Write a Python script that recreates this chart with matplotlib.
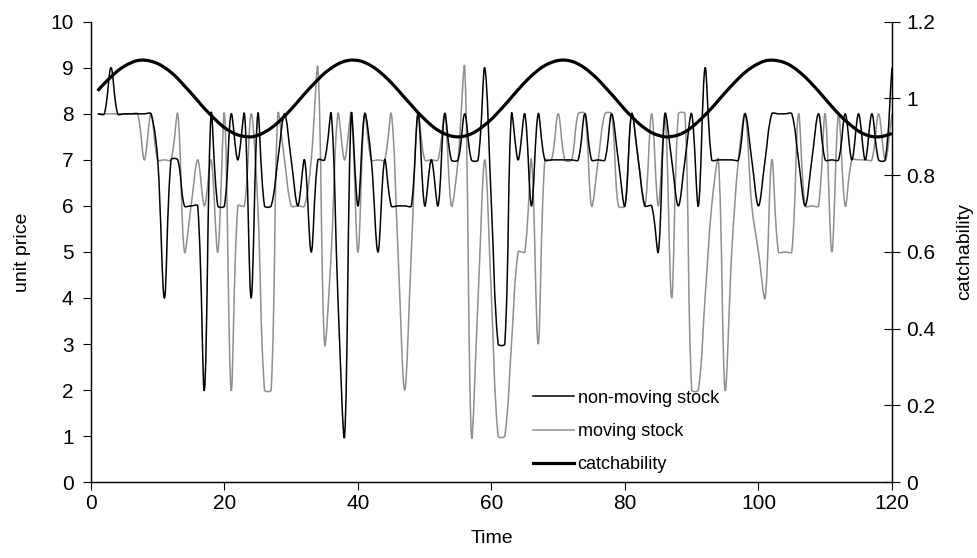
import numpy as np
import matplotlib
matplotlib.use('Agg')
import matplotlib.pyplot as plt
from matplotlib.path import Path
from matplotlib.patches import PathPatch
from matplotlib.lines import Line2D
from matplotlib.ticker import FuncFormatter

plt.rcParams['font.family'] = ['Liberation Sans', 'DejaVu Sans']

time = np.arange(1, 121)

non_moving = [8, 8, 9, 8, 8, 8, 8, 8, 8, 7,
              4, 7, 7, 6, 6, 6, 2, 8, 6, 6,
              8, 7, 8, 4, 8, 6, 6, 7, 8, 7,
              6, 7, 5, 7, 7, 8, 4, 1, 8, 6,
              8, 7, 5, 7, 6, 6, 6, 6, 8, 6,
              7, 6, 8, 7, 7, 8, 7, 7, 9, 6,
              3, 3, 8, 7, 8, 6, 8, 7, 7, 7,
              7, 7, 7, 8, 7, 7, 7, 8, 7, 6,
              8, 7, 6, 6, 5, 8, 7, 6, 7, 8,
              6, 9, 7, 7, 7, 7, 7, 8, 7, 6,
              7, 8, 8, 8, 8, 7, 6, 7, 8, 7,
              7, 7, 8, 7, 8, 7, 8, 7, 7, 9]

moving = [8, 8, 8, 8, 8, 8, 8, 7, 8, 7,
          7, 7, 8, 5, 6, 7, 6, 7, 5, 8,
          2, 6, 6, 8, 6, 2, 2, 8, 7, 6,
          6, 6, 7, 9, 3, 5, 8, 7, 8, 5,
          8, 7, 7, 7, 8, 5, 2, 5, 8, 7,
          7, 7, 8, 6, 7, 9, 1, 4, 7, 4,
          1, 1, 3, 5, 5, 7, 3, 7, 7, 8,
          7, 7, 8, 8, 6, 7, 8, 8, 6, 6,
          8, 7, 6, 8, 6, 8, 4, 8, 8, 2,
          2, 4, 6, 7, 2, 5, 7, 8, 6, 5,
          4, 7, 5, 5, 5, 8, 6, 6, 6, 8,
          5, 8, 6, 7, 7, 7, 7, 8, 7, 8]

catchability = [1.020, 1.039, 1.056, 1.072, 1.084, 1.093, 1.099, 1.100, 1.097, 1.091,
                1.081, 1.068, 1.052, 1.033, 1.014, 0.994, 0.974, 0.956, 0.939, 0.924,
                0.913, 0.905, 0.901, 0.900, 0.904, 0.912, 0.923, 0.937, 0.954, 0.972,
                0.992, 1.012, 1.031, 1.049, 1.066, 1.079, 1.090, 1.097, 1.100, 1.099,
                1.094, 1.085, 1.073, 1.058, 1.041, 1.022, 1.002, 0.983, 0.963, 0.946,
                0.930, 0.917, 0.908, 0.902, 0.900, 0.902, 0.908, 0.918, 0.931, 0.946,
                0.964, 0.983, 1.003, 1.023, 1.042, 1.059, 1.074, 1.086, 1.094, 1.099,
                1.100, 1.097, 1.090, 1.079, 1.065, 1.049, 1.030, 1.011, 0.991, 0.971,
                0.953, 0.936, 0.922, 0.911, 0.904, 0.900, 0.901, 0.905, 0.913, 0.925,
                0.940, 0.957, 0.975, 0.995, 1.015, 1.034, 1.052, 1.068, 1.081, 1.091,
                1.098, 1.100, 1.098, 1.093, 1.084, 1.071, 1.056, 1.038, 1.019, 0.999,
                0.979, 0.960, 0.943, 0.928, 0.915, 0.906, 0.901, 0.900, 0.903, 0.909]


def smooth_path(ax, x, y, k=1.0 / 3):
    # smoothed line through every point; tangents are weighted by the
    # on-screen segment lengths so flat stretches stay flat
    p0 = ax.transData.transform((0, 0))
    p1 = ax.transData.transform((1, 1))
    sx, sy = p1[0] - p0[0], p1[1] - p0[1]
    P = np.column_stack([np.asarray(x, float) * sx, np.asarray(y, float) * sy])
    n = len(P)
    c_out = np.zeros_like(P)
    c_in = np.zeros_like(P)
    for i in range(n):
        a = max(i - 1, 0)
        b = min(i + 1, n - 1)
        t = P[b] - P[a]
        d1 = np.hypot(*(P[i] - P[a]))
        d2 = np.hypot(*(P[b] - P[i]))
        tot = d1 + d2 if d1 + d2 > 0 else 1.0
        c_out[i] = P[i] + t * d2 / tot * k
        c_in[i] = P[i] - t * d1 / tot * k
    verts = [P[0]]
    codes = [Path.MOVETO]
    for i in range(n - 1):
        verts += [c_out[i], c_in[i + 1], P[i + 1]]
        codes += [Path.CURVE4] * 3
    verts = np.array(verts) / [sx, sy]
    return Path(verts, codes)


fig = plt.figure(figsize=(9.78, 5.58), dpi=100)
ax = fig.add_subplot(111)
fig.subplots_adjust(left=0.093, right=0.912, top=0.961, bottom=0.136)
ax2 = ax.twinx()

ax.set_xlim(0, 120)
ax.set_ylim(0, 10)
ax2.set_ylim(0, 1.2)

gray = '#8f8f8f'
ax.add_patch(PathPatch(smooth_path(ax, time, moving), fill=False, edgecolor=gray, lw=1.1))
ax.add_patch(PathPatch(smooth_path(ax, time, non_moving), fill=False, edgecolor='black', lw=1.1))
ax2.add_patch(PathPatch(smooth_path(ax2, time, catchability), fill=False, edgecolor='black', lw=2.3))

ax.set_xticks(np.arange(0, 121, 20))
ax.set_yticks(np.arange(0, 11, 1))
ax2.set_yticks(np.arange(0, 1.21, 0.2))
ax2.yaxis.set_major_formatter(FuncFormatter(lambda v, p: '%g' % round(v, 1)))

for a in (ax, ax2):
    a.spines['top'].set_visible(False)
    for s in a.spines.values():
        s.set_linewidth(0.9)
ax.tick_params(axis='x', direction='out', length=5.5, width=0.8, labelsize=15, pad=3)
ax.tick_params(axis='y', direction='out', length=5.5, width=0.8, labelsize=15, pad=7)
ax2.tick_params(axis='y', direction='inout', length=11, width=0.8, labelsize=15, pad=5)

ax.set_xlabel('Time', fontsize=14, labelpad=12)
ax.set_ylabel('unit price', fontsize=14, labelpad=14)
ax2.set_ylabel('catchability', fontsize=14, labelpad=15)

handles = [Line2D([], [], color='black', lw=1.1),
           Line2D([], [], color=gray, lw=1.1),
           Line2D([], [], color='black', lw=2.3)]
labels = ['non-moving stock', 'moving stock', 'catchability']
ax2.legend(handles, labels, loc='lower left', bbox_to_anchor=(0.54, 0.0),
           frameon=False, fontsize=13, handlelength=2.3, handletextpad=0.2,
           labelspacing=0.9, borderaxespad=0.1)

fig.savefig('out.png', dpi=100)
